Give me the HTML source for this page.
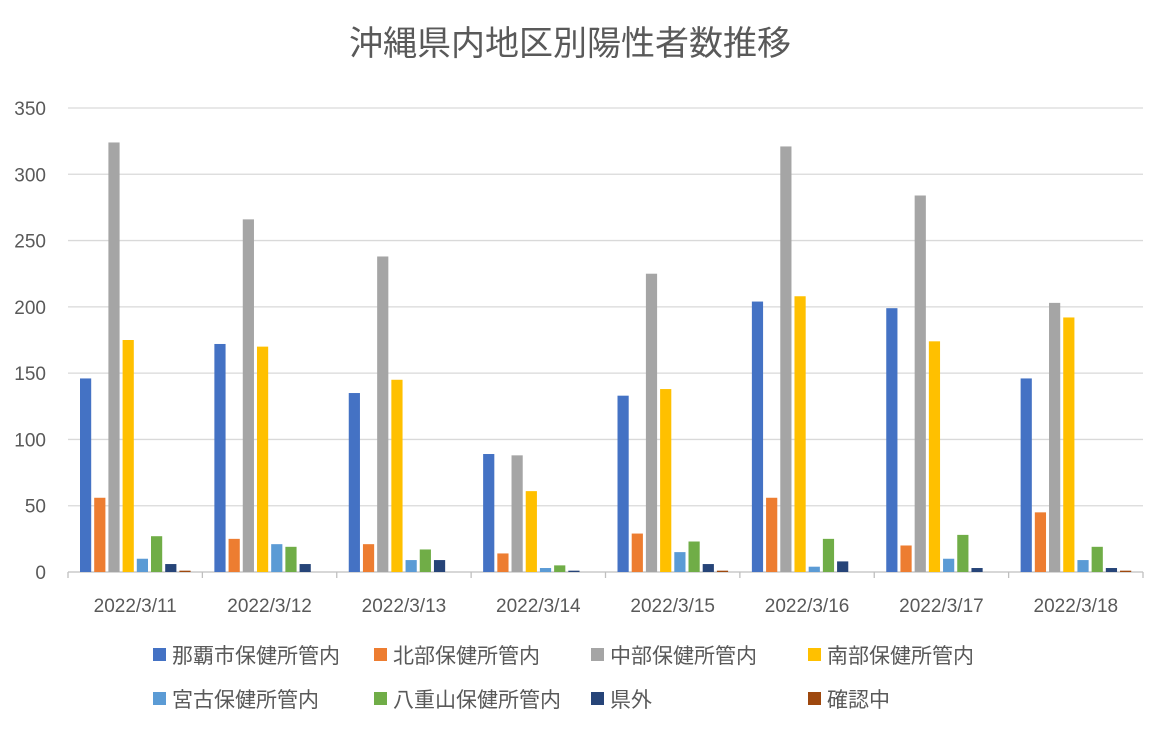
<!DOCTYPE html>
<html><head><meta charset="utf-8"><style>
body{margin:0;background:#fff;}
text{font-family:"Liberation Sans","Noto Sans CJK JP",sans-serif;fill:#595959;}
</style></head><body>
<svg width="1157" height="734" xmlns="http://www.w3.org/2000/svg">
<rect width="1157" height="734" fill="#fff"/>
<text x="570" y="55" font-size="34" text-anchor="middle">沖縄県内地区別陽性者数推移</text>
<g id="grid"></g>
<g id="bars"></g>
<g id="xl"></g>
<g font-size="21">
<rect x="153" y="648" width="13" height="13" fill="#4472C4"/><text x="172" y="663">那覇市保健所管内</text>
<rect x="374" y="648" width="13" height="13" fill="#ED7D31"/><text x="393" y="663">北部保健所管内</text>
<rect x="591" y="648" width="13" height="13" fill="#A5A5A5"/><text x="610" y="663">中部保健所管内</text>
<rect x="808" y="648" width="13" height="13" fill="#FFC000"/><text x="827" y="663">南部保健所管内</text>
<rect x="153" y="692" width="13" height="13" fill="#5B9BD5"/><text x="172" y="707">宮古保健所管内</text>
<rect x="374" y="692" width="13" height="13" fill="#70AD47"/><text x="393" y="707">八重山保健所管内</text>
<rect x="591" y="692" width="13" height="13" fill="#264478"/><text x="610" y="707">県外</text>
<rect x="808" y="692" width="13" height="13" fill="#9E480E"/><text x="827" y="707">確認中</text>
</g>
</svg>
<script>
const ns="http://www.w3.org/2000/svg";
function el(p,t,a,txt){const e=document.createElementNS(ns,t);for(const k in a)e.setAttribute(k,a[k]);if(txt!==undefined)e.textContent=txt;document.getElementById(p).appendChild(e);}
const y0=572,pu=(572-108)/350,x0=68,gw=(1143-68)/8;
for(let v=0;v<=350;v+=50){const y=y0-v*pu;
el('grid','line',{x1:x0,x2:1143,y1:y,y2:y,stroke:v?'#D9D9D9':'#BFBFBF','stroke-width':1.3});
el('grid','text',{x:46,y:y+7,'font-size':19,'text-anchor':'end'},v);}
for(let i=0;i<=8;i++){const x=x0+i*gw;el('grid','line',{x1:x,x2:x,y1:y0,y2:y0+6,stroke:'#BFBFBF','stroke-width':1.3});}
const cols=["#4472C4","#ED7D31","#A5A5A5","#FFC000","#5B9BD5","#70AD47","#264478","#9E480E"];
const d=[[146,56,324,175,10,27,6,1],[172,25,266,170,21,19,6,0],[135,21,238,145,9,17,9,0],[89,14,88,61,3,5,1,0],[133,29,225,138,15,23,6,1],[204,56,321,208,4,25,8,0],[199,20,284,174,10,28,3,0],[146,45,203,192,9,19,3,1]];
const labs=["2022/3/11","2022/3/12","2022/3/13","2022/3/14","2022/3/15","2022/3/16","2022/3/17","2022/3/18"];
d.forEach((g,i)=>{const gx=x0+i*gw;
g.forEach((v,j)=>{const h=v*pu;el('bars','rect',{x:gx+12+j*14.2,y:y0-h,width:11.2,height:h,fill:cols[j]});});
el('xl','text',{x:gx+gw/2,y:612,'font-size':19,'text-anchor':'middle'},labs[i]);});
</script>
</body></html>
